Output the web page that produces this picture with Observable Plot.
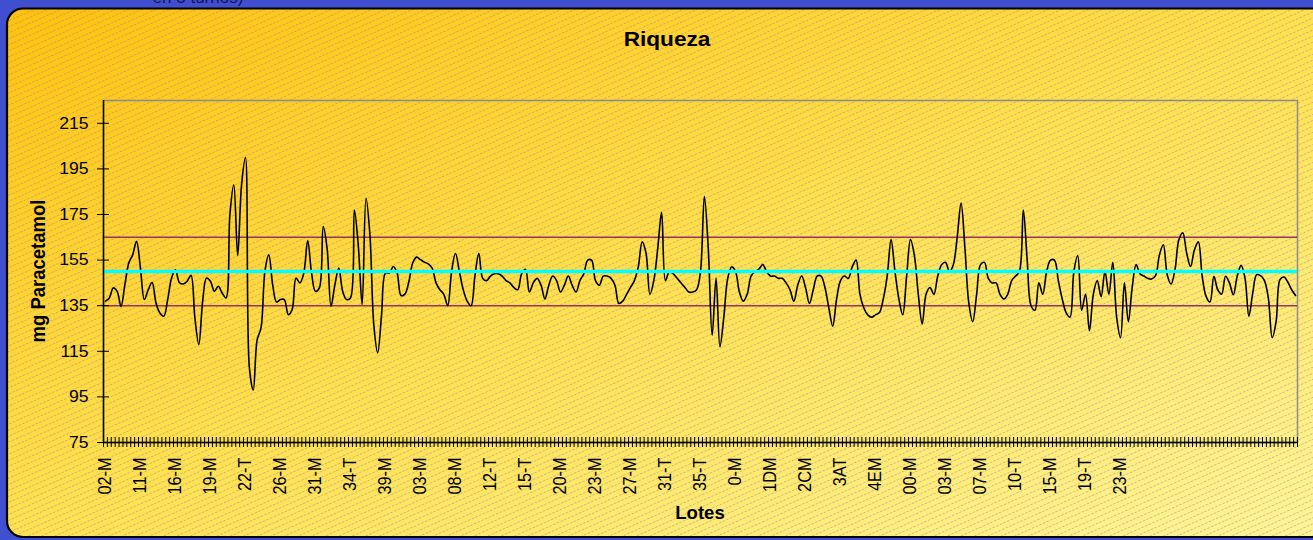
<!DOCTYPE html>
<html>
<head>
<meta charset="utf-8">
<script src="https://cdn.jsdelivr.net/npm/d3@7"></script>
<script src="https://cdn.jsdelivr.net/npm/@observablehq/plot@0.6"></script>
<style>
  html, body { margin: 0; padding: 0; }
  body { width: 1313px; height: 540px; overflow: hidden; position: relative; background: #3f4fcf; font-family: "Liberation Sans", Arial, sans-serif; }
  #panel { position: absolute; left: 0; top: 0; }
  #chart { position: absolute; left: 0; top: 0; }
  .txt { position: absolute; white-space: nowrap; color: #000; }
  #top { left: 198px; top: -11px; font-size: 17px; line-height: 17px; color: #14145a; transform: translateX(-50%); }
  #title { left: 667px; top: 30px; font-size: 19.5px; line-height: 19.5px; font-weight: bold; transform: translateX(-50%) scaleX(1.16); }
  #ylab { left: 39px; top: 271px; font-size: 18.5px; line-height: 18.5px; font-weight: bold; transform: translate(-50%, -50%) rotate(-90deg) scaleY(1.1); }
  #xlab { left: 700px; top: 505px; font-size: 17.5px; line-height: 17.5px; font-weight: bold; transform: translateX(-50%) scaleX(1.06); }
</style>
</head>
<body>
<svg id="panel" width="1313" height="540">
  <defs>
    <linearGradient id="bg" x1="0" y1="0" x2="1" y2="1">
      <stop offset="0" stop-color="#ffc10e"/>
      <stop offset="0.45" stop-color="#ffde4a"/>
      <stop offset="1" stop-color="#fff59c"/>
    </linearGradient>
    <pattern id="hatch" width="8" height="5.5" patternUnits="userSpaceOnUse" patternTransform="rotate(-24)">
      <line x1="0" y1="0.5" x2="8" y2="0.5" stroke="#8a8a8a" stroke-opacity="0.6" stroke-width="0.8" stroke-dasharray="2.5 1.5"/>
    </pattern>
  </defs>
  <rect x="7" y="8.5" width="1400" height="528.5" rx="16" fill="url(#bg)"/>
  <rect x="7" y="8.5" width="1400" height="528.5" rx="16" fill="url(#hatch)" stroke="#000" stroke-width="2.2"/>
</svg>
<div id="chart"></div>
<div class="txt" id="top">en 3 turnos)</div>
<div class="txt" id="title">Riqueza</div>
<div class="txt" id="ylab">mg Paracetamol</div>
<div class="txt" id="xlab">Lotes</div>
<script>
// ---- data ----
const values = [
  137.0, 138.4, 142.8, 141.3, 134.7, 144.2, 153.7, 157.3, 163.2, 151.5,
  137.7, 142.0, 145.2, 136.2, 131.8, 130.4, 137.7, 147.1, 150.8, 145.2,
  144.5, 145.7, 148.3, 129.6, 118.0, 137.0, 147.1, 145.7, 141.3, 143.5,
  140.6, 138.4, 175.0, 188.0, 157.0, 188.0, 200.0, 108.0, 98.0, 120.0,
  125.3, 150.0, 157.3, 144.2, 136.6, 137.7, 137.7, 131.1, 133.3, 147.1,
  145.0, 149.3, 163.6, 149.3, 141.3, 142.8, 169.7, 160.0, 134.7, 144.2,
  151.5, 141.3, 137.7, 138.4, 177.0, 161.7, 135.5, 182.1, 166.1, 126.7,
  114.3, 131.1, 149.3, 149.3, 152.2, 149.3, 139.5, 140.1, 145.4, 153.7,
  156.3, 155.2, 154.1, 153.3, 151.5, 145.0, 142.0,
  140, 135, 150, 158, 150, 142, 137, 135, 148, 158,
  147, 146, 148, 149, 149, 148, 146, 145, 143, 142,
  149, 151, 141, 145, 147, 144, 138, 144, 148, 146,
  141, 144, 148, 144, 141, 146, 149, 155, 155, 146,
  144, 148, 148, 147, 144, 136, 137, 140, 143, 146,
  152, 163, 158, 140, 146, 160, 176, 146, 150, 149,
  147, 145, 143, 141, 141, 142, 150, 183, 160, 122,
  147, 117, 130, 147, 152, 150, 141, 137, 140, 148,
  150, 151, 153, 150, 148, 148, 147, 147, 145, 142,
  137, 144, 148, 143, 136, 142, 148, 148, 143, 134,
  126, 138, 146, 148, 147, 152, 155, 140, 134, 131,
  130, 131, 132, 138, 148, 164, 150, 138, 131, 148,
  164, 157, 140, 127, 140, 143, 140, 148, 153, 154,
  150, 153, 165, 180, 160, 136, 128, 140, 153, 154,
  147, 145, 145, 140, 138, 140, 146, 148, 150, 177,
  155, 135, 133, 145, 140, 150, 155, 155, 146, 138,
  132, 130, 150, 157, 133, 140, 124, 140, 146, 139,
  150, 140, 154, 130, 121, 145, 128, 143, 153, 149,
  148, 147,
  146.7, 148.2, 157.3, 161.7, 148.6, 144.5, 150.8, 163.9, 167.0, 158.1,
  152.2, 159.5, 163.0, 147.9, 139.1, 136.6, 147.9, 142.0, 140.1, 147.9,
  145.0, 139.8, 147.9, 152.7, 147.1, 130.4, 140.6, 148.6, 148.2, 146.0,
  138.4, 121.0, 128.0, 146.4, 147.6, 145.4, 142.0, 139.5
];
const tickLabels = ["02-M","11-M","16-M","19-M","22-T","26-M","31-M","34-T","39-M","03-M",
  "08-M","12-T","15-T","20-M","23-M","27-M","31-T","35-T","0-M","1DM",
  "2CM","3AT","4EM","00-M","03-M","07-M","10-T","15-M","19-T","23-M"];
const labelStep = 9;
const controlLimits = [135, 165];
const meanLine = [150];
const yTicks = [75, 95, 115, 135, 155, 175, 195, 215];
const yDomain = [75, 225];

// ---- chart ----
const N = values.length;
const series = values.map((v, i) => ({lot: i + 0.5, mg: v}));
const catTicks = d3.range(N + 1);
const labelPos = tickLabels.map((_, k) => k * labelStep + 0.5);

const W = 1313, H = 540, mL = 103, mR = 16, mT = 100, mB = 98;
const innerW = W - mL - mR, innerH = H - mT - mB;

const chart = Plot.plot({
  width: W, height: H,
  marginLeft: mL, marginRight: mR, marginTop: mT, marginBottom: mB,
  style: {background: "transparent", fontFamily: "'Liberation Sans', Arial, sans-serif", fontSize: "16px", color: "#000", overflow: "visible"},
  x: {domain: [0, N], axis: null},
  y: {domain: yDomain, axis: null},
  marks: [
    Plot.frame({stroke: "#8c8c8c", strokeWidth: 1.5}),
    Plot.ruleY(controlLimits, {stroke: "#993366", strokeWidth: 1.5}),
    Plot.line(series, {x: "lot", y: "mg", stroke: "#000", strokeWidth: 1.6, curve: "catmull-rom"}),
    Plot.ruleY(meanLine, {stroke: "#00ffff", strokeWidth: 3.5}),
    Plot.ruleY([yDomain[0]], {stroke: "#000", strokeWidth: 1.5}),
    Plot.ruleX([0], {stroke: "#000", strokeWidth: 1.5}),
    Plot.tickX(catTicks, {x: d => d, insetTop: innerH - 10, dy: 5, stroke: "#000", strokeWidth: 1}),
    Plot.tickY(yTicks, {y: d => d, insetRight: innerW - 12, dx: -6, stroke: "#000", strokeWidth: 1}),
    Plot.axisX({ticks: labelPos, tickFormat: d => tickLabels[Math.round((d - 0.5) / labelStep)], tickSize: 0, tickPadding: 15, tickRotate: -90, fontSize: 16.3, label: null}),
    Plot.axisY({ticks: yTicks, tickSize: 0, tickPadding: 15, fontSize: 16.3, label: null})
  ]
});
document.getElementById("chart").appendChild(chart);
// slight horizontal widening of tick labels, as in the reference rendering
d3.select(chart).selectAll('g[aria-label="y-axis tick label"] text').each(function() {
  const t = this.getAttribute("transform") || "";
  this.setAttribute("transform", t + " scale(1.08,1)");
});
d3.select(chart).selectAll('g[aria-label="x-axis tick label"] text').each(function() {
  const t = this.getAttribute("transform") || "";
  this.setAttribute("transform", t.replace(/rotate\(/, "scale(1.08,1) rotate("));
});
</script>
</body>
</html>
